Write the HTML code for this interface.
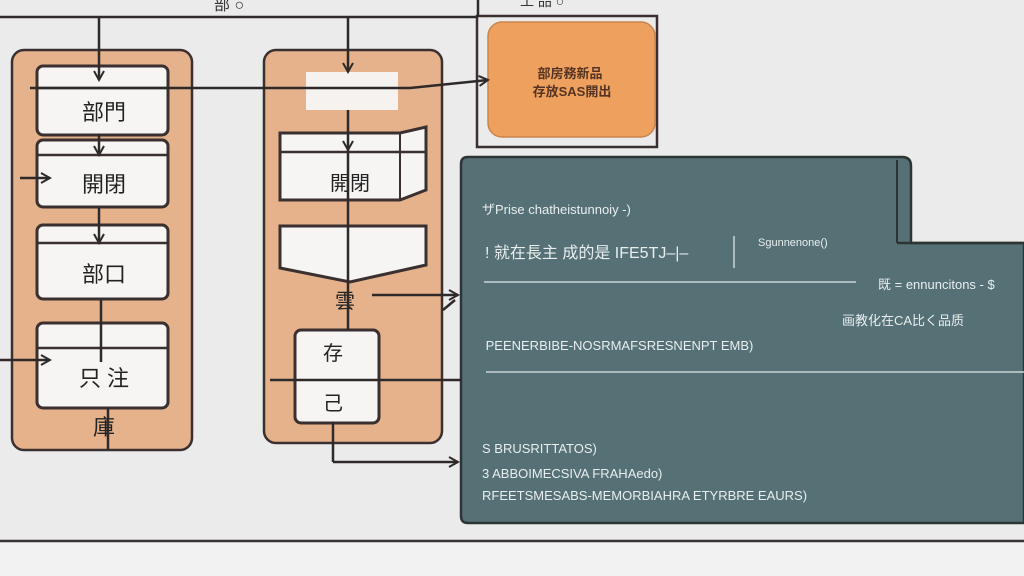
<!DOCTYPE html>
<html><head><meta charset="utf-8"><style>
html,body{margin:0;padding:0;background:#ebebeb;}
svg{display:block}
text{font-family:"Liberation Sans","Noto Sans CJK SC",sans-serif;}
</style></head><body>
<svg width="1024" height="576" viewBox="0 0 1024 576" xmlns="http://www.w3.org/2000/svg">
<defs><marker id="a" markerUnits="userSpaceOnUse" markerWidth="12" markerHeight="12" refX="10" refY="6" orient="auto"><path d="M1,1 L10,6 L1,11" fill="none" stroke="#2e2a2a" stroke-width="2"/></marker></defs>
<rect width="1024" height="576" fill="#ebebeb"/>
<rect x="0" y="541" width="1024" height="35" fill="#f2f2f2"/>
<line x1="0" y1="541" x2="1024" y2="541" stroke="#3a3434" stroke-width="2.5"/>
<text x="214" y="10" font-size="16" fill="#333">部 ○</text>
<text x="520" y="6" font-size="14" fill="#333">工 品 ○</text>
<!-- left container -->
<rect x="12" y="50" width="180" height="400" rx="12" fill="#e6b28c" stroke="#3a3030" stroke-width="2.5"/>
<g fill="#f7f5f3" stroke="#3a3030" stroke-width="3">
<rect x="37" y="66" width="131" height="69" rx="6"/>
<rect x="37" y="140" width="131" height="67" rx="6"/>
<rect x="37" y="225" width="131" height="74" rx="6"/>
<rect x="37" y="323" width="131" height="85" rx="6"/>
</g>
<g stroke="#3a3030" stroke-width="2.5">
<line x1="37" y1="88" x2="168" y2="88"/><line x1="37" y1="155" x2="168" y2="155"/>
<line x1="37" y1="243" x2="168" y2="243"/><line x1="37" y1="348" x2="168" y2="348"/>
</g>
<g font-size="22" fill="#222" text-anchor="middle">
<text x="104" y="120">部門</text><text x="104" y="192">開閉</text><text x="104" y="282">部口</text><text x="104" y="386">只 注</text><text x="104" y="435">庫</text>
</g>
<!-- middle container -->
<rect x="264" y="50" width="178" height="393" rx="12" fill="#e6b28c" stroke="#3a3030" stroke-width="2.5"/>
<rect x="306" y="72" width="92" height="38" fill="#f5f2ef"/>
<path d="M280,133 L400,133 L426,127 L426,190 L400,200 L280,200 Z" fill="#f7f5f3" stroke="#3a3030" stroke-width="3"/>
<line x1="280" y1="152" x2="426" y2="152" stroke="#3a3030" stroke-width="2.5"/>
<line x1="400" y1="133" x2="400" y2="200" stroke="#3a3030" stroke-width="2"/>
<path d="M280,226 L426,226 L426,265 L350,282 L280,268 Z" fill="#f7f5f3" stroke="#3a3030" stroke-width="3"/>
<rect x="295" y="330" width="84" height="93" rx="6" fill="#f7f5f3" stroke="#3a3030" stroke-width="3"/>
<g font-size="20" fill="#222" text-anchor="middle">
<text x="350" y="190">開閉</text><text x="345" y="308">雲</text><text x="333" y="360">存</text><text x="333" y="410">己</text>
</g>
<!-- orange -->
<rect x="477" y="16" width="180" height="131" fill="none" stroke="#3a3030" stroke-width="2.5"/>
<rect x="488" y="22" width="167" height="115" rx="14" fill="#eea05f" stroke="#c8864c" stroke-width="1.5"/>
<g font-size="13" fill="#553322" text-anchor="middle" font-weight="bold"><text x="570" y="78">部房務新品</text><text x="572" y="96">存放SAS開出</text></g>
<!-- teal panel -->
<path d="M468,157 L902,157 Q911,157 911,166 L911,243 L1024,243 L1024,523 L468,523 Q461,523 461,516 L461,164 Q461,157 468,157 Z" fill="#557176" stroke="#2e3434" stroke-width="2.5"/>
<line x1="897" y1="160" x2="897" y2="243" stroke="#2e3434" stroke-width="2"/>
<line x1="897" y1="243" x2="1024" y2="243" stroke="#2e3434" stroke-width="2.5"/>
<g fill="#e8eeee" font-size="13">
<text x="482" y="214">ザPrise chatheistunnoiy -)</text>
<text x="485" y="258" font-size="16">! 就在長主 成的是 IFE5TJ–|–</text>
<text x="758" y="246" font-size="11">Sgunnenone()</text>
<text x="878" y="289">既 = ennuncitons - $</text>
<text x="842" y="325">画教化在CA比く品质</text>
<text x="482" y="350">&#160;PEENERBIBE-NOSRMAFSRESNENPT EMB)</text>
<text x="482" y="453">S BRUSRITTATOS)</text>
<text x="482" y="478">3 ABBOIMECSIVA FRAHAedo)</text>
<text x="482" y="500">RFEETSMESABS-MEMORBIAHRA ETYRBRE EAURS)</text>
</g>
<g stroke="#c9d5d5" stroke-width="1.5"><line x1="484" y1="282" x2="856" y2="282"/><line x1="486" y1="372" x2="1024" y2="372"/><line x1="734" y1="236" x2="734" y2="268"/></g>
<!-- connectors -->
<g stroke="#2e2a2a" stroke-width="2.5" fill="none">
<line x1="0" y1="17" x2="478" y2="17"/>
<line x1="478" y1="0" x2="478" y2="17"/>
<line x1="99" y1="17" x2="99" y2="80" marker-end="url(#a)"/>
<line x1="99" y1="134" x2="99" y2="155" marker-end="url(#a)"/>
<line x1="99" y1="207" x2="99" y2="243" marker-end="url(#a)"/>
<line x1="101" y1="300" x2="101" y2="362"/>
<line x1="108" y1="408" x2="108" y2="450"/>
<line x1="348" y1="17" x2="348" y2="72" marker-end="url(#a)"/>
<line x1="348" y1="110" x2="348" y2="150" marker-end="url(#a)"/>
<line x1="348" y1="150" x2="348" y2="330"/>
<line x1="30" y1="88" x2="410" y2="88"/>
<line x1="410" y1="88" x2="488" y2="80" marker-end="url(#a)"/>
<line x1="20" y1="178" x2="50" y2="178" marker-end="url(#a)"/>
<line x1="0" y1="360" x2="50" y2="360" marker-end="url(#a)"/>
<line x1="372" y1="295" x2="458" y2="295" marker-end="url(#a)"/>
<line x1="270" y1="380" x2="461" y2="380"/>
<line x1="333" y1="422" x2="333" y2="462"/>
<line x1="333" y1="462" x2="458" y2="462" marker-end="url(#a)"/>
<path d="M443,310 L455,300"/>
</g>
</svg>
</body></html>
